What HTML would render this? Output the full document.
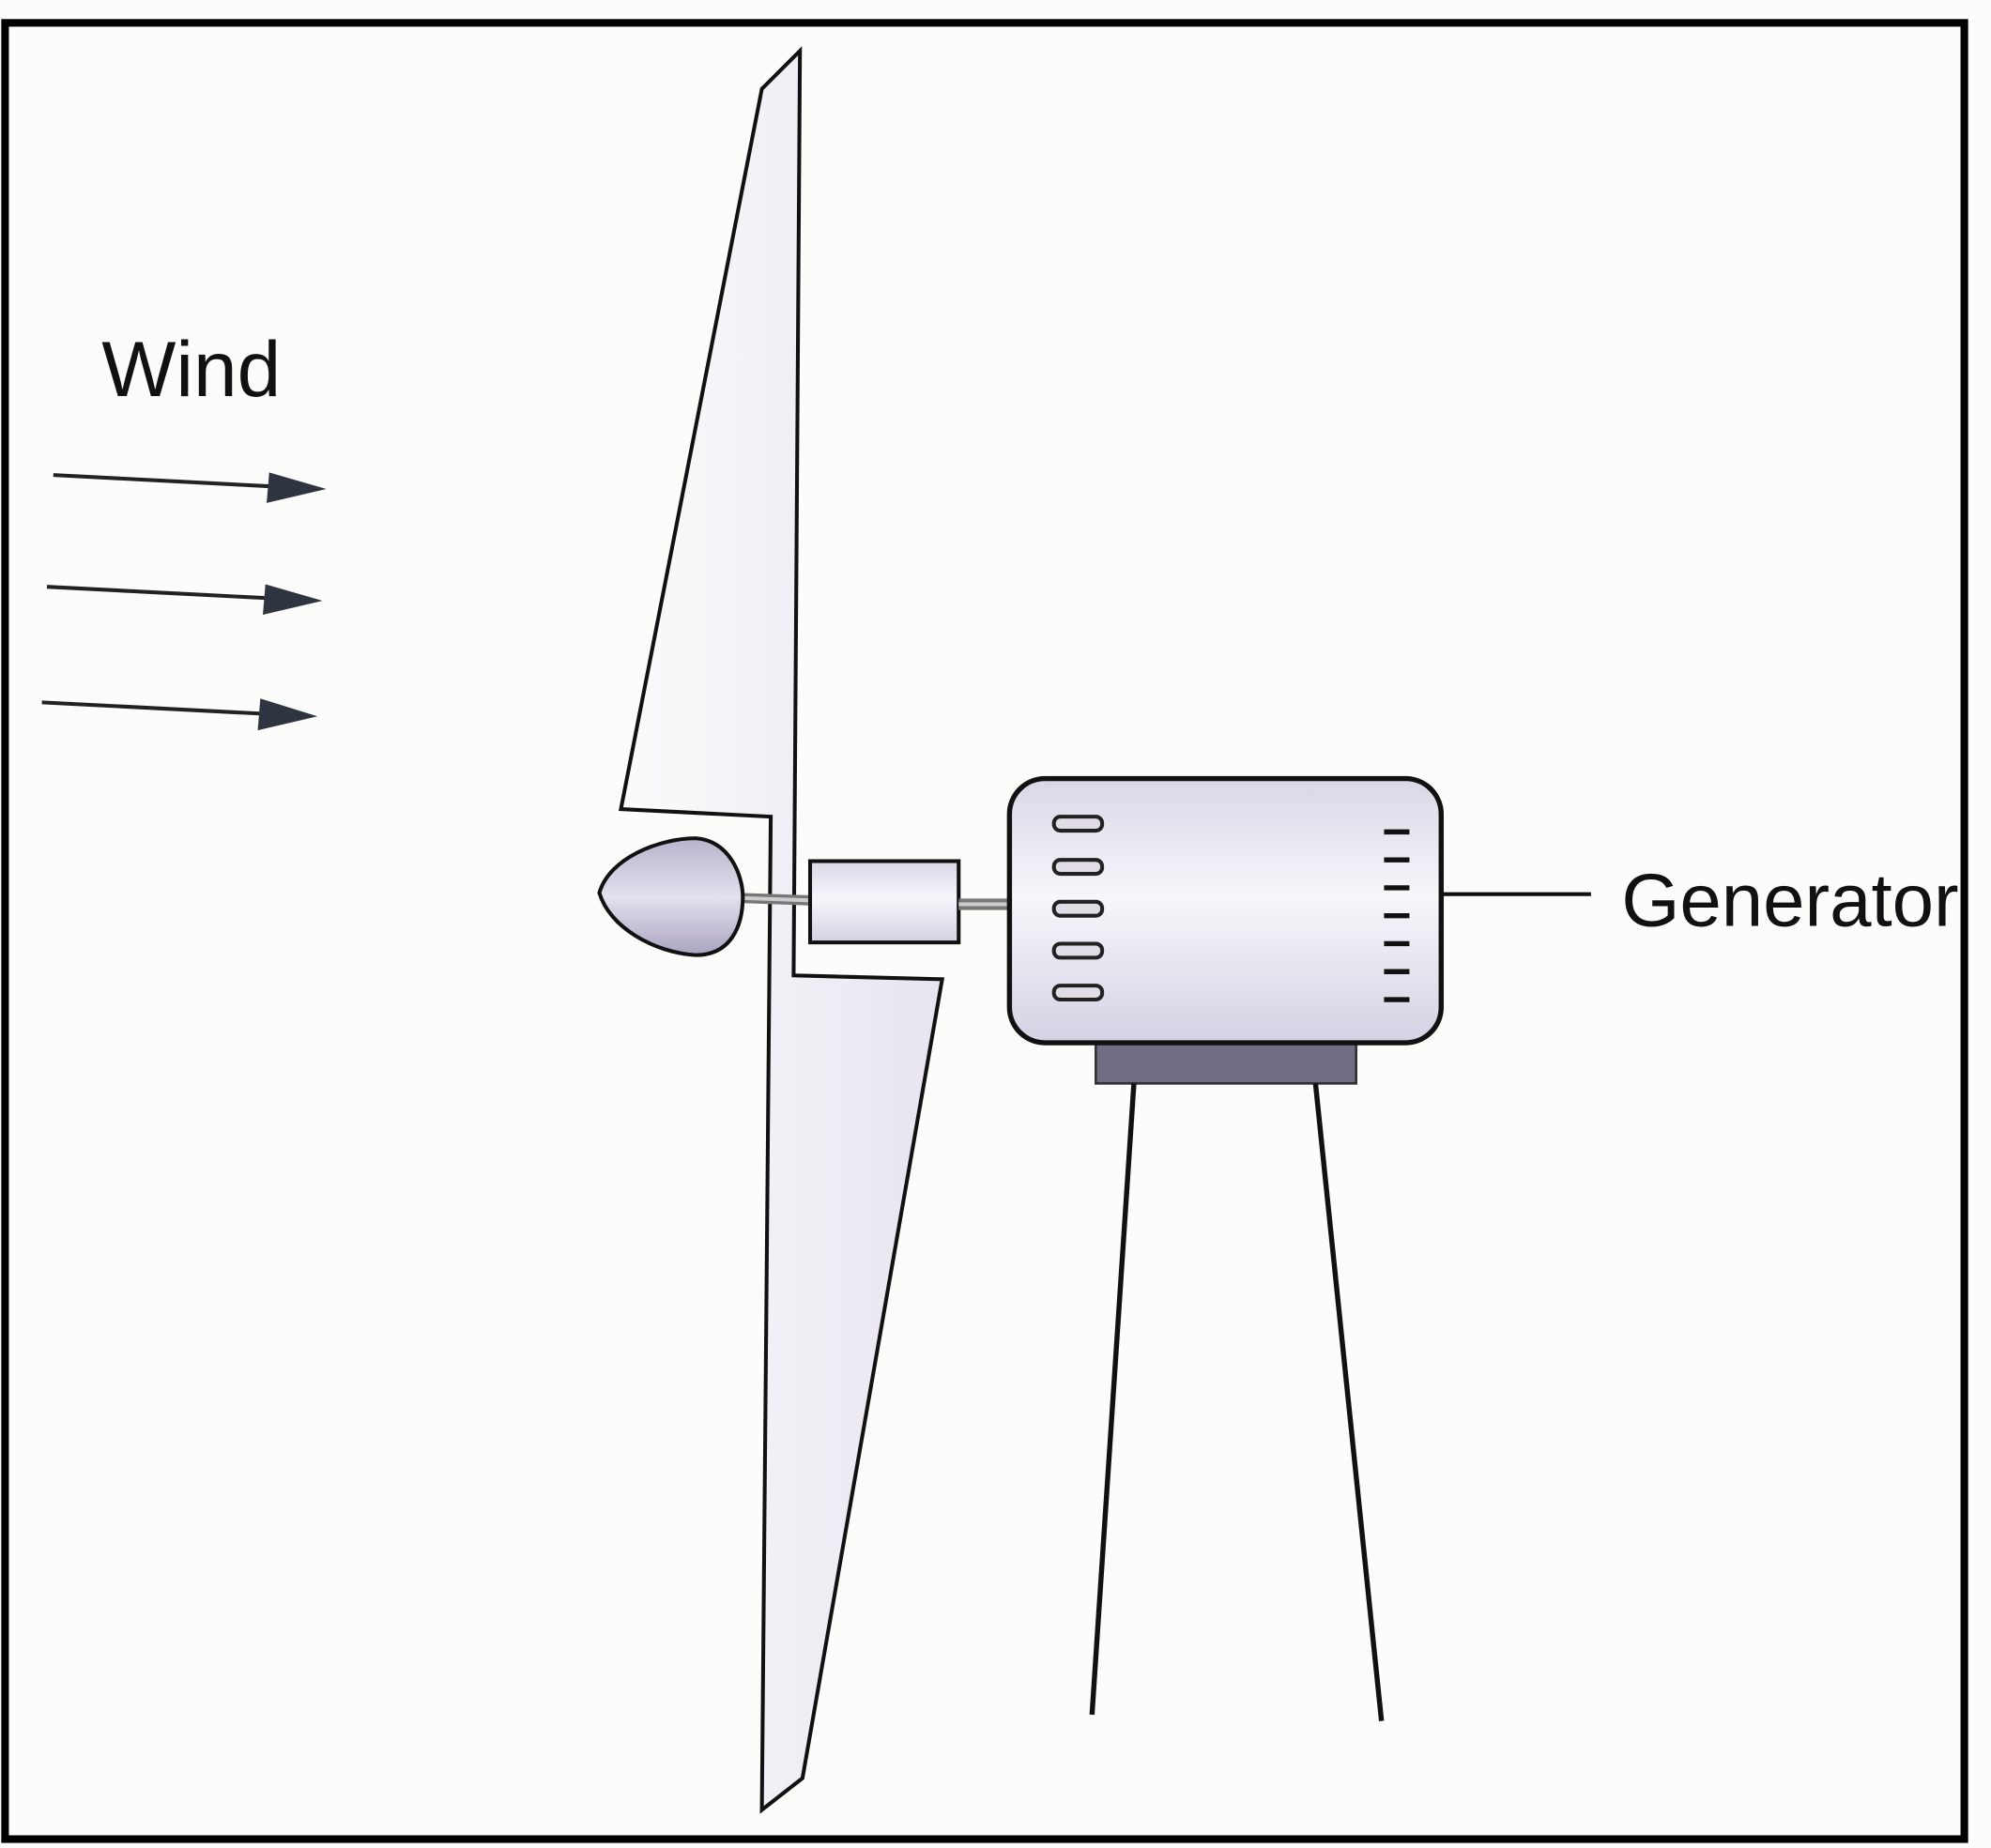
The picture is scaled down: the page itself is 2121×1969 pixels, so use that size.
<!DOCTYPE html>
<html><head><style>html,body{margin:0;padding:0;background:#fcfcfa;}svg{display:block}</style></head>
<body>
<svg width="2121" height="1969" viewBox="0 0 1568 1455" preserveAspectRatio="none" xmlns="http://www.w3.org/2000/svg">
<defs>
<linearGradient id="g" x1="0" y1="0" x2="0" y2="1">
<stop offset="0" stop-color="#d9d7e6"/><stop offset="0.45" stop-color="#f7f6fb"/><stop offset="1" stop-color="#d4d2e3"/>
</linearGradient>
<linearGradient id="c" x1="0" y1="0" x2="0" y2="1">
<stop offset="0" stop-color="#b8b3cc"/><stop offset="0.5" stop-color="#e4e0ee"/><stop offset="1" stop-color="#a9a4c0"/>
</linearGradient>
<linearGradient id="b" x1="0" y1="0" x2="1" y2="0">
<stop offset="0" stop-color="#fbfbfb"/><stop offset="1" stop-color="#e8e4f0"/>
</linearGradient>
</defs>
<rect x="0" y="0" width="1568" height="1455" fill="#fcfcfa"/>
<text x="80" y="312" font-family="Liberation Sans, sans-serif" font-size="62" fill="#111">Wind</text>
<g stroke="#222" stroke-width="3">
<line x1="42" y1="374" x2="215" y2="383"/>
<line x1="37" y1="462" x2="212" y2="471"/>
<line x1="33" y1="553" x2="208" y2="562"/>
</g>
<g fill="#2e3540">
<polygon points="212,372 257,385 210,396"/>
<polygon points="209,460 254,473 207,484"/>
<polygon points="205,550 250,564 203,575"/>
</g>
<polygon points="630,40 600,70 489,637 607,643 600,1425 632,1400 742,771 625,768" fill="url(#b)" stroke="#111" stroke-width="3" stroke-linejoin="miter"/>
<line x1="583" y1="707" x2="640" y2="709" stroke="#777" stroke-width="8"/>
<line x1="583" y1="707" x2="640" y2="709" stroke="#ccc" stroke-width="3"/>
<path d="M472,703 C480,675 520,660 548,660 C575,662 585,690 585,706 C585,730 575,752 548,752 C515,750 480,730 472,703 Z" fill="url(#c)" stroke="#111" stroke-width="3"/>
<rect x="638" y="678" width="117" height="64" fill="url(#g)" stroke="#111" stroke-width="3"/>
<line x1="755" y1="712" x2="797" y2="712" stroke="#777" stroke-width="9"/>
<line x1="755" y1="712" x2="797" y2="712" stroke="#ccc" stroke-width="3"/>
<rect x="863" y="818" width="205" height="35" fill="#6f6e85" stroke="#333" stroke-width="2"/>
<rect x="795" y="613" width="340" height="208" rx="28" fill="url(#g)" stroke="#111" stroke-width="4"/>
<g fill="#e0dde6" stroke="#222" stroke-width="3">
<rect x="830" y="643" width="38" height="11" rx="5"/>
<rect x="830" y="677" width="38" height="11" rx="5"/>
<rect x="830" y="710" width="38" height="11" rx="5"/>
<rect x="830" y="743" width="38" height="11" rx="5"/>
<rect x="830" y="776" width="38" height="11" rx="5"/>
</g>
<g stroke="#111" stroke-width="4">
<line x1="1090" y1="655" x2="1110" y2="655"/>
<line x1="1090" y1="677" x2="1110" y2="677"/>
<line x1="1090" y1="699" x2="1110" y2="699"/>
<line x1="1090" y1="721" x2="1110" y2="721"/>
<line x1="1090" y1="743" x2="1110" y2="743"/>
<line x1="1090" y1="765" x2="1110" y2="765"/>
<line x1="1090" y1="787" x2="1110" y2="787"/>
</g>
<g stroke="#111" stroke-width="4">
<line x1="893" y1="853" x2="860" y2="1350"/>
<line x1="1036" y1="853" x2="1088" y2="1355"/>
</g>
<line x1="1137" y1="704" x2="1253" y2="704" stroke="#111" stroke-width="3"/>
<text x="1277" y="729" font-family="Liberation Sans, sans-serif" font-size="59" fill="#111">Generator</text>
<rect x="1548" y="600" width="20" height="200" fill="#fcfcfa"/>
<rect x="4" y="18" width="1543" height="1430" fill="none" stroke="#000" stroke-width="6"/>
</svg>
</body></html>
